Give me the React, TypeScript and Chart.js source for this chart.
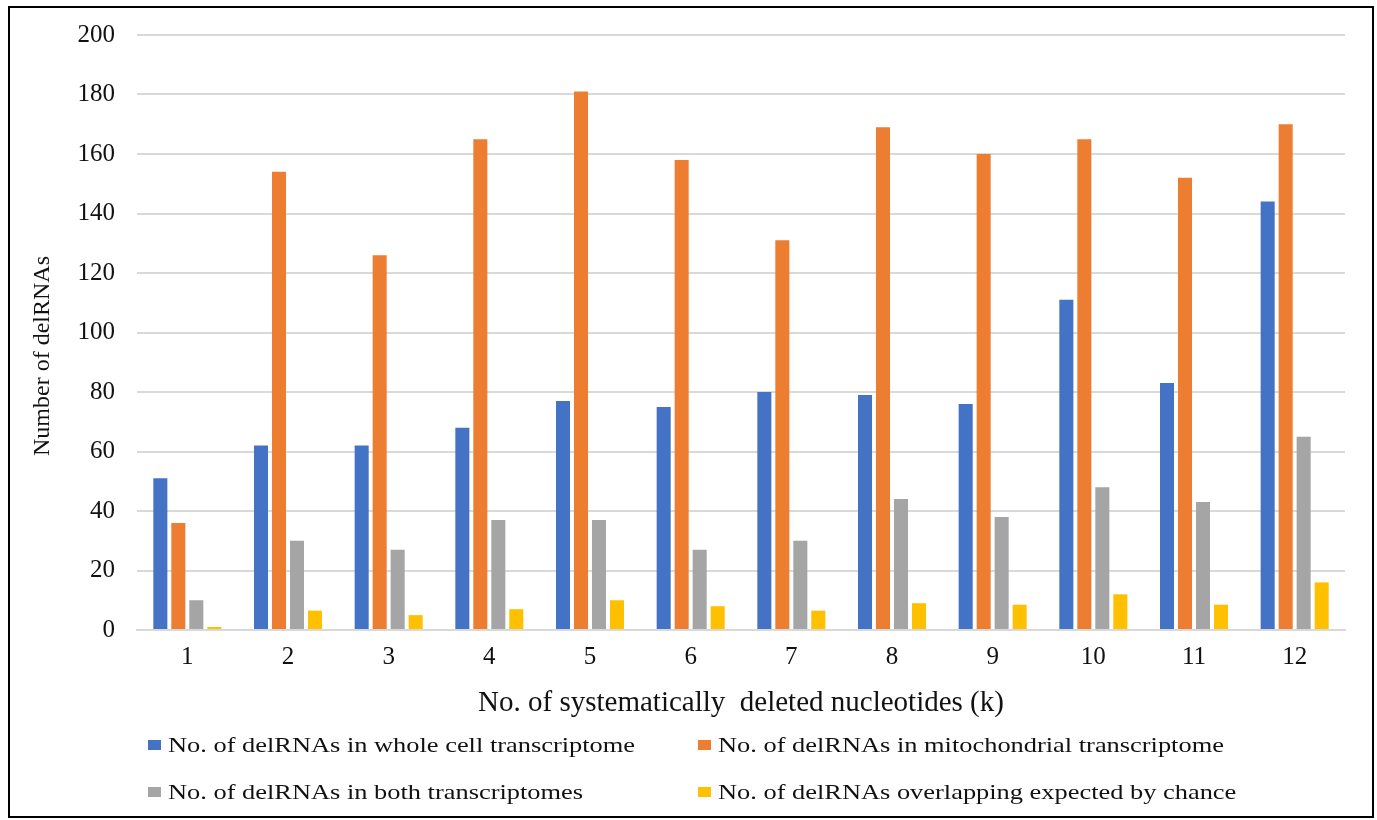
import React, { useEffect, useRef } from "react";
import { Chart, registerables } from "chart.js";

Chart.register(...registerables);

const categories = ["1", "2", "3", "4", "5", "6", "7", "8", "9", "10", "11", "12"];
const wholeCell = [51, 62, 62, 68, 77, 75, 80, 79, 76, 111, 83, 144];
const mitochondrial = [36, 154, 126, 165, 181, 158, 131, 169, 160, 165, 152, 170];
const bothTranscriptomes = [10, 30, 27, 37, 37, 27, 30, 44, 38, 48, 43, 65];
const expectedByChance = [1, 6.5, 5, 7, 10, 8, 6.5, 9, 8.5, 12, 8.5, 16];

const seriesLabels = [
  "No. of delRNAs in whole cell transcriptome",
  "No. of delRNAs in mitochondrial transcriptome",
  "No. of delRNAs in both transcriptomes",
  "No. of delRNAs overlapping expected by chance",
];
const seriesColors = ["#4472C4", "#ED7D31", "#A5A5A5", "#FFC000"];

const yTitle = "Number of delRNAs";
const xTitle = "No. of systematically  deleted nucleotides (k)";
const FONT = "'Liberation Serif', 'Times New Roman', serif";

const extrasPlugin = {
  id: "extras",
  afterDraw(chart: any) {
    const ctx = chart.ctx;
    // y axis title
    ctx.save();
    ctx.translate(33, 348);
    ctx.rotate(-Math.PI / 2);
    ctx.fillStyle = "#111";
    ctx.font = `24px ${FONT}`;
    ctx.textAlign = "center";
    ctx.textBaseline = "middle";
    ctx.fillText(yTitle, 0, 0);
    ctx.restore();

    // legend in a 2x2 grid
    const boxCols = [138, 688];
    const textCols = [158, 708];
    const rows = [737, 784];
    ctx.save();
    chart.data.datasets.forEach((ds: any, i: number) => {
      const c = i % 2;
      const y = rows[Math.floor(i / 2)];
      ctx.fillStyle = ds.backgroundColor;
      ctx.fillRect(boxCols[c], y - 5, 13, 10);
      ctx.save();
      ctx.translate(textCols[c], y);
      ctx.scale(1.2, 1);
      ctx.fillStyle = "#111";
      ctx.font = `22px ${FONT}`;
      ctx.textBaseline = "middle";
      ctx.textAlign = "left";
      ctx.fillText(ds.label, 0, 1);
      ctx.restore();
    });
    ctx.restore();
  },
};

export default function App() {
  const ref = useRef<HTMLCanvasElement | null>(null);

  useEffect(() => {
    if (!ref.current) return;
    const data = [wholeCell, mitochondrial, bothTranscriptomes, expectedByChance];
    const chart = new Chart(ref.current, {
      type: "bar",
      data: {
        labels: categories,
        datasets: data.map((d, i) => ({
          label: seriesLabels[i],
          data: d,
          backgroundColor: seriesColors[i],
          borderWidth: 0,
          categoryPercentage: 0.715,
          barPercentage: 0.78,
        })),
      },
      options: {
        responsive: false,
        animation: false,
        layout: { padding: { left: 25, right: 27, top: 27, bottom: 95 } },
        plugins: {
          legend: { display: false },
          tooltip: { enabled: false },
        },
        scales: {
          x: {
            grid: { display: false },
            border: { display: true, color: "#d9d9d9", width: 2 },
            ticks: { color: "#111", font: { family: FONT, size: 25 }, padding: 4 },
            title: {
              display: true,
              text: xTitle,
              color: "#111",
              font: { family: FONT, size: 29 },
              padding: 0,
            },
            afterFit: (s: any) => {
              s.height = 91;
              s.paddingLeft = 0;
              s.paddingRight = 0;
            },
          },
          y: {
            min: 0,
            max: 200,
            ticks: {
              stepSize: 20,
              color: "#111",
              font: { family: FONT, size: 25 },
              padding: 22,
            },
            grid: { color: "#d9d9d9", lineWidth: 2, drawTicks: false },
            border: { display: false },
            title: { display: false },
            afterFit: (s: any) => {
              s.width = 102;
              s.paddingTop = 0;
              s.paddingBottom = 0;
            },
          },
        },
      },
      plugins: [extrasPlugin],
    });
    return () => chart.destroy();
  }, []);

  return (
    <div
      style={{
        position: "absolute",
        left: 8,
        top: 6,
        width: 1366,
        height: 812,
        border: "2px solid #000",
        boxSizing: "border-box",
        background: "#fff",
      }}
    >
      <canvas ref={ref} width={1362} height={808} style={{ display: "block" }} />
    </div>
  );
}
